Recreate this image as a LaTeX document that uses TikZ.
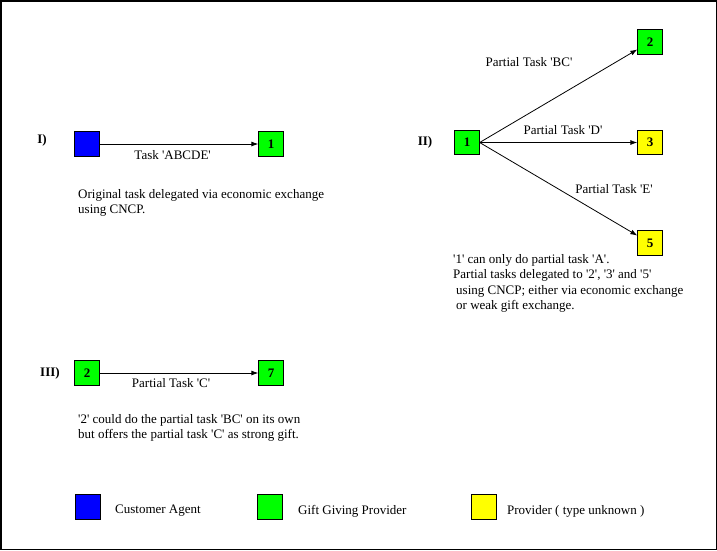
\documentclass[tikz,border=0pt]{standalone}
\usepackage{fontspec}
\setmainfont{Liberation Serif}
\usetikzlibrary{arrows.meta, positioning}
\definecolor{agentBlue}{HTML}{0000FF}
\definecolor{giftGreen}{HTML}{00FF00}
\definecolor{provYellow}{HTML}{FFFF00}
\newcommand{\qt}{\textquotesingle}
\newcommand{\basefont}{\fontsize{13}{15.5}\selectfont}
\tikzset{
  arrowK/.style={-{Latex[length=7pt,width=5pt]}, black, line width=0.8pt},
  boxBase/.style={rectangle, draw=black, line width=0.8pt, minimum size=24.5pt,
                  inner sep=0pt, font=\basefont\bfseries},
  boxBlue/.style={boxBase, fill=agentBlue},
  boxGreen/.style={boxBase, fill=giftGreen},
  boxYellow/.style={boxBase, fill=provYellow},
  caseLbl/.style={font=\basefont\bfseries},
  note/.style={align=left, anchor=north west, inner sep=0pt},
}

\begin{document}
\begin{tikzpicture}[x=1pt, y=-1pt, font=\basefont]
    \useasboundingbox (0,0) rectangle (717,550);
    \draw[line width=1.5pt] (0.75,0.75) rectangle (716.25,549.25);

    % I) original delegation
    \node[caseLbl] (cI) at (42,140) {I)};
    \node[boxBlue] (cust) at (87,144) {};
    \node[boxGreen] (p1) at (271,144) {1};
    \draw[arrowK] (cust) -- (p1)
      node[pos=0.46, below=3pt] (tABCDE) {Task \qt ABCDE\qt};
    \node[note] (nI) at (78,189)
      {Original task delegated via economic exchange\\using CNCP.};

    % II) partial tasks
    \node[caseLbl] (cII) at (425,142) {II)};
    \node[boxGreen] (q1) at (467,142.5) {1};
    \node[boxGreen] (q2) at (650,42) {2};
    \node[boxYellow] (q3) at (650,142.5) {3};
    \node[boxYellow] (q5) at (650,243) {5};
    \draw[arrowK] (q1.east) -- (q2);
    \draw[arrowK] (q1.east) -- (q3);
    \draw[arrowK] (q1.east) -- (q5);
    \node (tBC) at (529,62) {Partial Task \qt BC\qt};
    \node (tD) at (563,130) {Partial Task \qt D\qt};
    \node (tE) at (614,189) {Partial Task \qt E\qt};
    \node[note] (nII) at (453,254)
      {\qt 1\qt{} can only do partial task \qt A\qt.\\
       Partial tasks delegated to \qt 2\qt, \qt 3\qt{} and \qt 5\qt\\
       \hspace*{3pt}using CNCP; either via economic exchange\\
       \hspace*{3pt}or weak gift exchange.};

    % III) strong gift
    \node[caseLbl] (cIII) at (50,373) {III)};
    \node[boxGreen] (r2) at (87,373) {2};
    \node[boxGreen] (r7) at (271,373) {7};
    \draw[arrowK] (r2) -- (r7)
      node[pos=0.45, below=2pt] (tC) {Partial Task \qt C\qt};
    \node[note] (nIII) at (78,414)
      {\qt 2\qt{} could do the partial task \qt BC\qt{} on its own\\
       but offers the partial task \qt C\qt{} as strong gift.};

    % legend
    \node[boxBlue] (kBlue) at (88,507) {};
    \node[right=11pt of kBlue, yshift=-4pt] (kBlueT) {Customer Agent};
    \node[boxGreen] (kGreen) at (270,507) {};
    \node[right=12pt of kGreen, yshift=-4pt] (kGreenT) {Gift Giving Provider};
    \node[boxYellow] (kYellow) at (484,507) {};
    \node[right=7pt of kYellow, yshift=-4pt] (kYellowT) {Provider ( type unknown )};
\end{tikzpicture}
\end{document}
